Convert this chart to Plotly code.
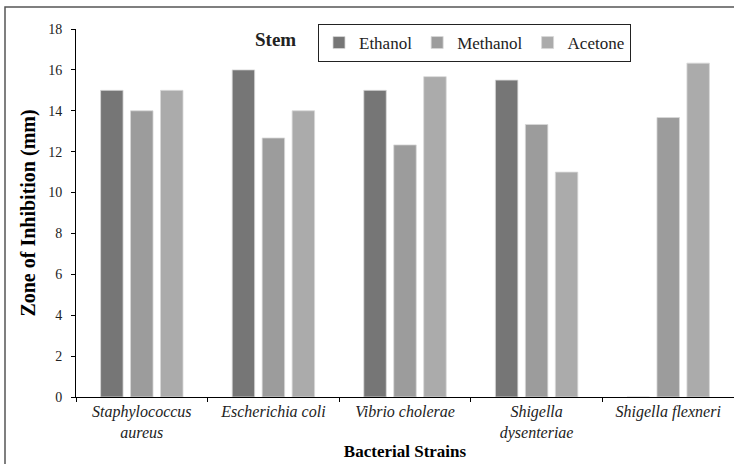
import plotly.graph_objects as go

# Zone of inhibition (mm) of stem extracts against bacterial strains
strains = [
    "<i>Staphylococcus<br>aureus</i>",
    "<i>Escherichia coli</i>",
    "<i>Vibrio cholerae</i>",
    "<i>Shigella<br>dysenteriae</i>",
    "<i>Shigella flexneri</i>",
]
ethanol = [15.0, 16.0, 15.0, 15.5, 0.0]
methanol = [14.0, 12.67, 12.33, 13.33, 13.67]
acetone = [15.0, 14.0, 15.67, 11.0, 16.33]
y_ticks = [0, 2, 4, 6, 8, 10, 12, 14, 16, 18]

series = [
    ("Ethanol", ethanol, "#767676"),
    ("Methanol", methanol, "#9c9c9c"),
    ("Acetone", acetone, "#ababab"),
]

W, H = 734, 464
ML, MR, MT, MB = 76, 0, 29, 67
PW, PH = W - ML - MR, H - MT - MB


def px_x(x):
    return (x - ML) / PW


def px_y(y):
    return (H - MB - y) / PH


FONT = "Liberation Serif, Times New Roman, serif"

fig = go.Figure()
for name, vals, color in series:
    fig.add_trace(go.Bar(
        name=name, x=strains, y=vals,
        marker=dict(color=color, line=dict(color="#d8d8d8", width=0.8)),
    ))

fig.update_layout(
    width=W, height=H,
    margin=dict(l=ML, r=MR, t=MT, b=MB),
    paper_bgcolor="white", plot_bgcolor="white",
    barmode="group", bargap=0.317, bargroupgap=0.25,
    font=dict(family=FONT, color="black"),
    showlegend=True,
    legend=dict(
        orientation="h", x=px_x(318), y=px_y(24), xanchor="left", yanchor="top",
        bordercolor="#222", borderwidth=1, bgcolor="white",
        font=dict(size=17, family=FONT, color="#222"),
        itemwidth=30, traceorder="normal",
    ),
    xaxis=dict(
        showline=True, linecolor="black", linewidth=1,
        ticks="outside", ticklen=4, tickcolor="black", tickson="boundaries",
        tickfont=dict(size=16, family=FONT, color="#222"),
        title=dict(text="<b>Bacterial Strains</b>", font=dict(size=17, family=FONT), standoff=4),
        showgrid=False,
    ),
    yaxis=dict(
        range=[0, 18], tickvals=y_ticks,
        showline=True, linecolor="black", linewidth=1,
        ticks="outside", ticklen=4, tickcolor="black",
        tickfont=dict(size=14, family=FONT, color="#222"),
        ticklabelstandoff=6,
        title=dict(text="<b>Zone of Inhibition (mm)</b>", font=dict(size=20, family=FONT), standoff=7),
        showgrid=False, zeroline=False,
    ),
    annotations=[dict(
        text="<b>Stem</b>", x=px_x(275), y=px_y(40), xref="paper", yref="paper",
        xanchor="center", yanchor="middle",
        showarrow=False, font=dict(size=19, family=FONT, color="#222"),
    )],
    shapes=[dict(
        type="rect", xref="paper", yref="paper",
        x0=px_x(5), x1=px_x(W + 20), y0=px_y(H + 20), y1=px_y(7),
        line=dict(color="#555", width=1.5), fillcolor="rgba(0,0,0,0)", layer="below",
    )],
)

fig.write_html("out.html")
